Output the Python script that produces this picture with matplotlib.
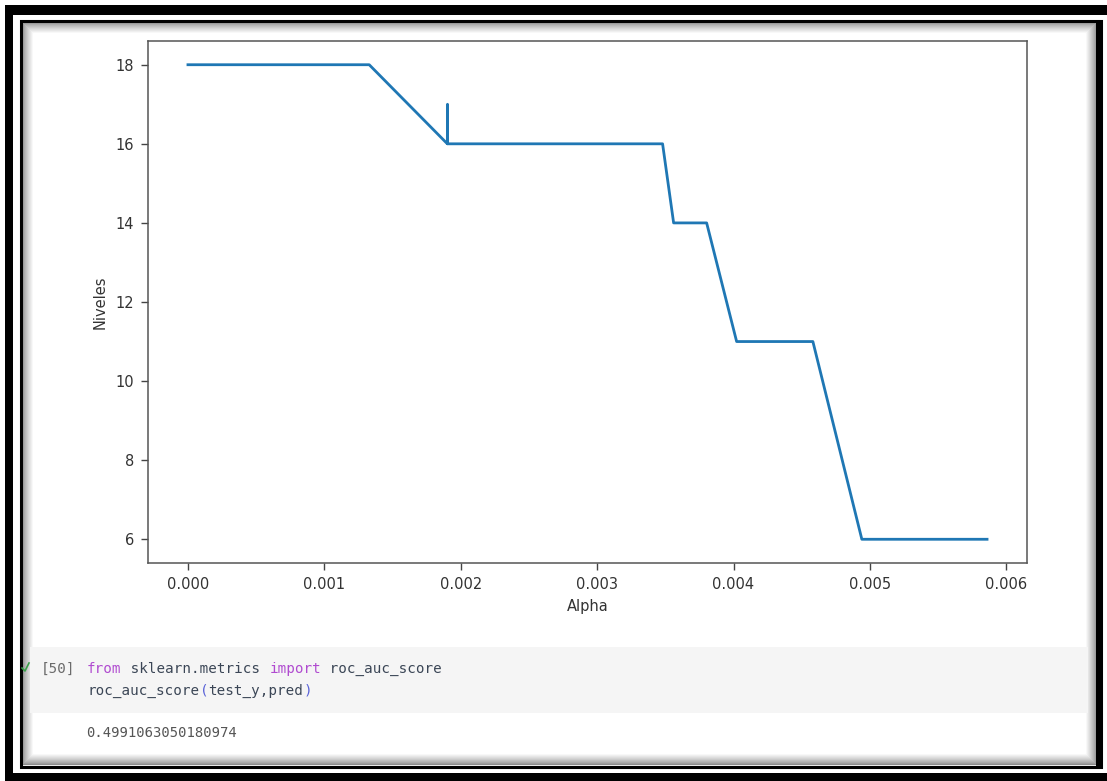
import matplotlib
matplotlib.use("Agg")
import matplotlib.pyplot as plt
from matplotlib.patches import Rectangle

# Pruning path: ccp_alpha vs. tree depth
alphas = [0.0, 0.001329, 0.001902, 0.001903, 0.001904, 0.003480,
          0.003561, 0.003803, 0.004023, 0.004582, 0.004941, 0.005859]
levels = [18, 18, 16, 17, 16, 16, 14, 14, 11, 11, 6, 6]

x_ticks = [0.000, 0.001, 0.002, 0.003, 0.004, 0.005, 0.006]
y_ticks = [6, 8, 10, 12, 14, 16, 18]

W, H = 1107, 781
fig = plt.figure(figsize=(W / 100, H / 100), dpi=100)
fig.patch.set_facecolor("white")

# Page background layer in pixel coordinates
bg = fig.add_axes([0, 0, 1, 1])
bg.set_xlim(0, W)
bg.set_ylim(H, 0)
bg.axis("off")

# thick outer frame
bg.add_patch(Rectangle((5, 5), W - 5, 10, fc="black", ec="none"))
bg.add_patch(Rectangle((5, 5), 8, H - 5, fc="black", ec="none"))
bg.add_patch(Rectangle((5, 773), W - 5, 8, fc="black", ec="none"))

# soft inner shadow
for i in range(12):
    g = 0.55 + 0.45 * (i / 11) ** 0.8
    bg.add_patch(Rectangle((22 + i, 22 + i), 1074 - 2 * i, 742 - 2 * i,
                           fc="none", ec=(g, g, g), lw=0.9))
# inner thin frame
bg.add_patch(Rectangle((20.5, 20.5), 1080, 746, fc="none", ec="black", lw=2.2))
bg.add_patch(Rectangle((1096, 20), 7, 748, fc="black", ec="none"))

# code cell
bg.add_patch(Rectangle((30, 647), 1058, 66, fc="#f5f5f5", ec="none"))
bg.plot([22, 25, 29], [668, 671, 663], color="#3aa14a", lw=1.2)

mono = "DejaVu Sans Mono"
fs = 10.3
bg.text(41, 669, "[50]", family=mono, fontsize=fs, color="#6b6b6b", va="center")

def code_line(x, y, parts):
    t = None
    for s, c in parts:
        t = bg.text(x, y, s, family=mono, fontsize=fs, color=c, va="center")
        x += len(s) * 8.68

code_line(87, 669, [("from", "#b04bd0"), (" sklearn.metrics ", "#3b4656"),
                    ("import", "#b04bd0"), (" roc_auc_score", "#3b4656")])
code_line(87, 691, [("roc_auc_score", "#3b4656"), ("(", "#5a63d8"),
                    ("test_y,pred", "#3b4656"), (")", "#5a63d8")])
bg.text(86, 733, "0.4991063050180974", family=mono, fontsize=fs - 0.3,
        color="#555555", va="center")

# main chart
ax = fig.add_axes([148 / W, 1 - 563 / H, (1027 - 148) / W, (563 - 41) / H])
ax.plot(alphas, levels, color="#1f77b4", lw=2.0)
ax.set_xticks(x_ticks)
ax.set_xticklabels([f"{v:.3f}" for v in x_ticks])
ax.set_yticks(y_ticks)
ax.set_xlabel("Alpha", fontsize=10.5, color="#333333", labelpad=5)
ax.set_ylabel("Niveles", fontsize=10.5, color="#333333", labelpad=6)
ax.tick_params(labelsize=10.5, labelcolor="#333333", color="#444444",
               length=5, width=1.0, pad=5)
for sp in ax.spines.values():
    sp.set_color("#555555")
    sp.set_linewidth(1.1)

fig.savefig("out.png", dpi=100)
